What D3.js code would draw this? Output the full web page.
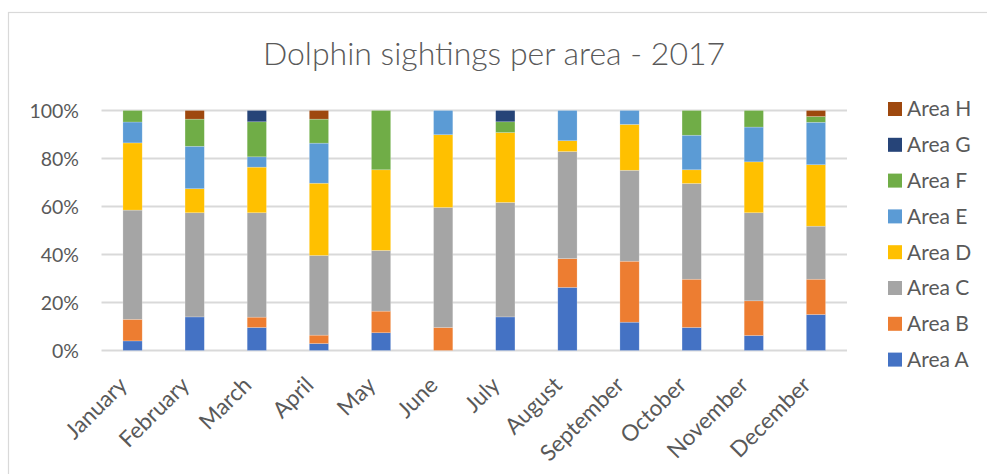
<!DOCTYPE html>
<html><head><meta charset="utf-8">
<script src="https://cdn.jsdelivr.net/npm/d3@7"></script>
<style>body{margin:0;background:#fff;} svg{display:block;font-family:Lato, "Open Sans", sans-serif;}</style>
</head><body><svg id="c" width="987" height="474"></svg>
<script>
const months = ["January","February","March","April","May","June","July","August","September","October","November","December"];
const seriesNames = ["Area A","Area B","Area C","Area D","Area E","Area F","Area G","Area H"];
const colors = ["#4472C4","#ED7D31","#A5A5A5","#FFC000","#5B9BD5","#70AD47","#264478","#9E480E"];
const areaA = [4.0,14.0,9.6,2.9,7.4,0,14.0,26.3,11.8,9.6,6.25,15.0];
const areaB = [9.0,0,4.3,3.5,9.0,9.6,0,12.0,25.4,20.1,14.45,14.7];
const areaC = [45.5,43.4,43.5,33.2,25.3,50.0,47.7,44.6,37.9,39.9,36.7,22.1];
const areaD = [28.0,10.0,19.0,30.1,33.6,30.3,29.1,4.5,19.1,5.7,21.2,25.6];
const areaE = [8.7,17.7,4.3,16.7,0,10.1,0,12.6,5.8,14.4,14.5,17.7];
const areaF = [4.8,11.3,14.6,10.0,24.7,0,4.5,0,0,10.3,6.9,2.4];
const areaG = [0,0,4.7,0,0,0,4.7,0,0,0,0,0];
const areaH = [0,3.6,0,3.6,0,0,0,0,0,0,0,2.5];
const yTicks = [0,0.2,0.4,0.6,0.8,1.0];
const title = "Dolphin sightings per area - 2017";

const allSeries = [areaA,areaB,areaC,areaD,areaE,areaF,areaG,areaH];
const rows = months.map((m,i)=>{const r={month:m}; seriesNames.forEach((s,j)=>r[s]=allSeries[j][i]); return r;});
const stack = d3.stack().keys(seriesNames).offset(d3.stackOffsetExpand)(rows);

const svg = d3.select("#c");
const pL=101.5, pR=847, pT=110.5, pB=350.5;
const x = d3.scaleBand().domain(months).range([pL,pR]).paddingInner(0.69).paddingOuter(0.345);
const y = d3.scaleLinear().domain([0,1]).range([pB,pT]);

// chart border
svg.append("rect").attr("x",8.5).attr("y",12.5).attr("width",1000).attr("height",500)
  .attr("fill","none").attr("stroke","#d9d9d9").attr("stroke-width",1.2);

svg.append("text").attr("x",494).attr("y",65).attr("text-anchor","middle")
  .attr("font-size",32).attr("font-weight",300).attr("fill","#595959").text(title);

// gridlines
svg.append("g").selectAll("line").data(yTicks).join("line")
  .attr("x1",pL).attr("x2",pR).attr("y1",d=>y(d)).attr("y2",d=>y(d))
  .attr("stroke","#d9d9d9").attr("stroke-width",1.8);

// y axis labels
const yAxis = d3.axisLeft(y).tickValues(yTicks).tickFormat(d3.format(".0%")).tickSize(0).tickPadding(0);
const ya = svg.append("g").attr("transform",`translate(${79},0)`).call(yAxis);
ya.select(".domain").remove();
ya.selectAll("text").attr("font-size",19.5).attr("fill","#595959").attr("font-family","Lato, sans-serif").attr("dy","0.35em");

// bars
svg.append("g").selectAll("g").data(stack).join("g").attr("fill",(d,i)=>colors[i])
  .selectAll("rect").data(d=>d).join("rect")
  .attr("x",d=>x(d.data.month)).attr("width",x.bandwidth())
  .attr("y",d=>y(d[1])).attr("height",d=>Math.max(0,y(d[0])-y(d[1])))
  .attr("stroke","rgba(255,255,255,0.35)").attr("stroke-width",0.6);

// x axis labels
const xAxis = d3.axisBottom(x).tickSize(0).tickPadding(0);
const xa = svg.append("g").attr("transform",`translate(0,${pB})`).call(xAxis);
xa.select(".domain").remove();
xa.selectAll("text").attr("font-size",22.5).attr("fill","#595959").attr("font-family","Lato, sans-serif")
  .attr("text-anchor","end").attr("dy",0).attr("y",0)
  .attr("transform","translate(-4,36) rotate(-45)");

// legend
const legendOrder = seriesNames.map((s,i)=>i).reverse();
const lg = svg.append("g").selectAll("g").data(legendOrder).join("g")
  .attr("transform",(d,k)=>`translate(888,${109+k*35.8})`);
lg.append("rect").attr("x",0).attr("y",-7).attr("width",14).attr("height",14).attr("fill",d=>colors[d]);
lg.append("text").attr("x",19).attr("y",0).attr("dy","0.35em").attr("font-size",21).attr("fill","#595959")
  .text(d=>seriesNames[d]);
</script></body></html>
